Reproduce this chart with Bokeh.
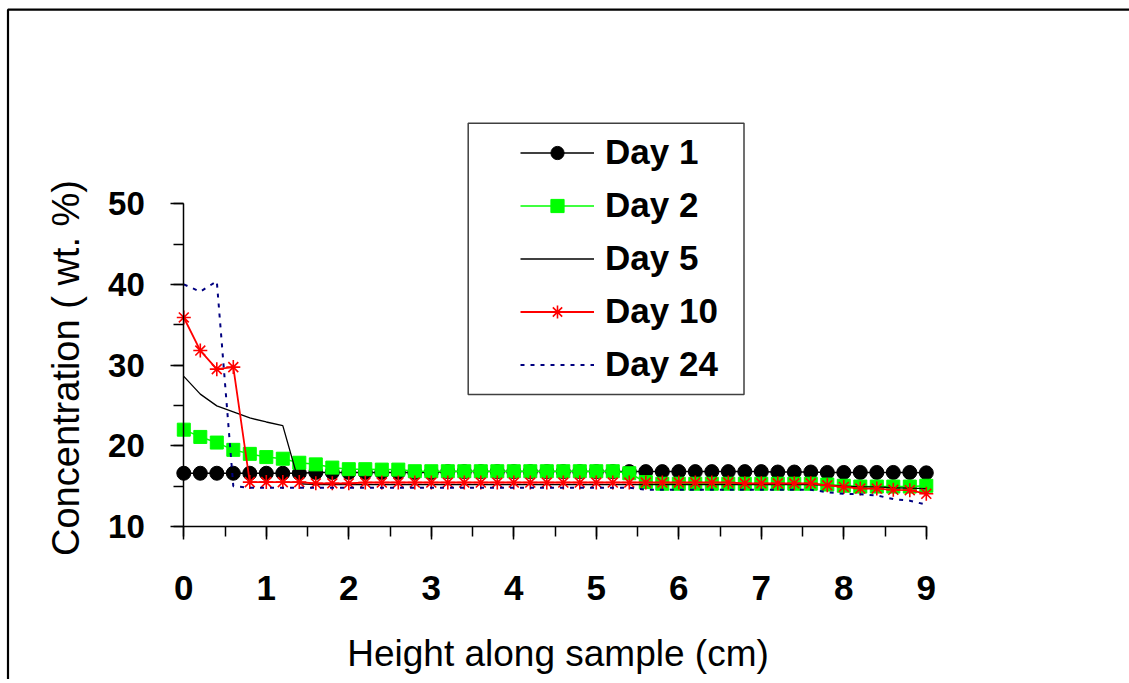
from math import pi
from bokeh.plotting import figure
from bokeh.models import (Range1d, SingleIntervalTicker, Legend, LegendItem, Label,
                          BoxAnnotation, ColumnDataSource)
from bokeh.embed import file_html
from bokeh.resources import INLINE

# ---------------- data ----------------
height_cm = [0.0, 0.2, 0.4, 0.6, 0.8, 1.0, 1.2, 1.4, 1.6, 1.8,
             2.0, 2.2, 2.4, 2.6, 2.8, 3.0, 3.2, 3.4, 3.6, 3.8,
             4.0, 4.2, 4.4, 4.6, 4.8, 5.0, 5.2, 5.4, 5.6, 5.8,
             6.0, 6.2, 6.4, 6.6, 6.8, 7.0, 7.2, 7.4, 7.6, 7.8,
             8.0, 8.2, 8.4, 8.6, 8.8, 9.0]

day1 = [16.6, 16.6, 16.6, 16.6, 16.6, 16.6, 16.6, 16.6, 16.7, 16.7,
        16.7, 16.7, 16.7, 16.7, 16.7, 16.7, 16.8, 16.8, 16.8, 16.8,
        16.8, 16.8, 16.8, 16.8, 16.8, 16.8, 16.8, 16.8, 16.8, 16.8,
        16.8, 16.8, 16.8, 16.8, 16.8, 16.8, 16.75, 16.75, 16.75, 16.7,
        16.7, 16.7, 16.7, 16.7, 16.7, 16.65]

day2 = [22.0, 21.1, 20.4, 19.5, 19.0, 18.6, 18.4, 17.9, 17.7, 17.3,
        17.1, 17.1, 17.05, 17.05, 16.85, 16.85, 16.85, 16.85, 16.85, 16.85,
        16.85, 16.85, 16.85, 16.85, 16.85, 16.85, 16.85, 16.6, 15.5, 15.3,
        15.3, 15.3, 15.3, 15.3, 15.3, 15.3, 15.3, 15.3, 15.3, 15.2,
        15.05, 14.95, 14.95, 14.95, 14.95, 15.05]

day5 = [28.6, 26.4, 24.95, 24.2, 23.45, 22.95, 22.5, 15.3, 15.2, 15.2,
        15.2, 15.2, 15.2, 15.2, 15.2, 15.2, 15.2, 15.2, 15.2, 15.2,
        15.2, 15.2, 15.2, 15.2, 15.2, 15.2, 15.2, 15.2, 15.2, 15.2,
        15.2, 15.2, 15.2, 15.2, 15.2, 15.2, 15.2, 15.2, 15.2, 15.1,
        15.0, 14.9, 14.9, 14.8, 14.75, 14.7]

day10 = [35.9, 31.8, 29.5, 29.75, 15.5, 15.5, 15.5, 15.5, 15.35, 15.35,
         15.35, 15.45, 15.45, 15.45, 15.45, 15.45, 15.45, 15.45, 15.45, 15.45,
         15.45, 15.45, 15.45, 15.45, 15.45, 15.45, 15.45, 15.45, 15.45, 15.45,
         15.45, 15.45, 15.45, 15.45, 15.35, 15.35, 15.35, 15.35, 15.35, 15.1,
         14.9, 14.7, 14.7, 14.55, 14.5, 14.05]

day24 = [40.0, 39.1, 40.4, 15.0, 14.8, 14.8, 14.8, 14.8, 14.8, 14.8,
         14.8, 14.8, 14.8, 14.8, 14.8, 14.8, 14.8, 14.8, 14.8, 14.8,
         14.8, 14.8, 14.8, 14.8, 14.8, 14.8, 14.8, 14.8, 14.55, 14.55,
         14.55, 14.55, 14.55, 14.55, 14.55, 14.55, 14.55, 14.55, 14.55, 14.25,
         14.05, 14.0, 13.85, 13.4, 13.2, 12.7]

series_labels = ["Day 1", "Day 2", "Day 5", "Day 10", "Day 24"]
x_title = "Height along sample (cm)"
y_title = "Concentration ( wt. %)"

# ---------------- layout (page pixels; canvas at page origin) ----------------
W, H = 1129, 679
X0_PX, XPX = 183.3, 82.5    # page x of height 0, pixels per cm
Y10_PX, YPX = 526.0, 8.07   # page y of concentration 10, pixels per wt.%


def xd(px):
    return (px - X0_PX) / XPX


def yd(py):
    return 10 + (Y10_PX - py) / YPX


p = figure(width=W, height=H, output_backend="svg", toolbar_location=None,
           x_range=Range1d(xd(0), xd(W)), y_range=Range1d(yd(H), yd(0)),
           min_border_left=0, min_border_right=0, min_border_top=0, min_border_bottom=0)
p.outline_line_color = None
p.grid.visible = False
p.background_fill_color = "white"
p.border_fill_color = "white"

# axes crossing at (0, 10)
p.xaxis.fixed_location = 10
p.xaxis.bounds = (0, 9)
p.xaxis.ticker = SingleIntervalTicker(interval=1, num_minor_ticks=2)
p.yaxis.fixed_location = 0
p.yaxis.bounds = (10, 50)
p.yaxis.ticker = SingleIntervalTicker(interval=10, num_minor_ticks=2)
for ax in (p.xaxis, p.yaxis):
    ax.axis_line_color = "black"
    ax.axis_line_width = 1.5
    ax.major_tick_line_color = "black"
    ax.major_tick_line_width = 1.5
    ax.minor_tick_line_color = "black"
    ax.minor_tick_line_width = 1.5
    ax.major_tick_in = 0
    ax.major_tick_out = 13
    ax.minor_tick_in = 0
    ax.minor_tick_out = 10
    ax.major_label_text_font = "Liberation Sans"
    ax.major_label_text_font_style = "bold"
    ax.major_label_text_color = "black"
p.xaxis.major_label_text_font_size = "35px"
p.xaxis.major_label_standoff = 36
p.yaxis.major_label_text_font_size = "33px"
p.yaxis.major_label_standoff = 26

# chart border (top and left edges of the picture frame)
p.line([xd(7.5), xd(7.5), xd(W + 10)], [yd(H + 10), yd(9.2), yd(9.2)],
       line_color="black", line_width=2.2)

src = ColumnDataSource(dict(x=height_cm, d1=day1, d2=day2, d5=day5, d10=day10, d24=day24))

l1 = p.line("x", "d1", source=src, line_color="black", line_width=1.5)
m1 = p.scatter("x", "d1", source=src, marker="circle", size=14,
               fill_color="black", line_color="black")
l2 = p.line("x", "d2", source=src, line_color="#00FF00", line_width=1.5)
m2 = p.scatter("x", "d2", source=src, marker="square", size=13,
               fill_color="#00FF00", line_color="#00FF00")
l5 = p.line("x", "d5", source=src, line_color="black", line_width=1.3)
l10 = p.line("x", "d10", source=src, line_color="#FF0000", line_width=1.8)
m10 = p.scatter("x", "d10", source=src, marker="asterisk", size=14,
                line_color="#FF0000", line_width=1.6)
l24 = p.line("x", "d24", source=src, line_color="#000080", line_width=2,
             line_dash="4 6")

# legend
p.add_layout(BoxAnnotation(left=xd(467.7), right=xd(743.5), top=yd(122.7), bottom=yd(394),
                           fill_alpha=0, line_color="#404040", line_alpha=1.0, line_width=1.5))
legend = Legend(items=[LegendItem(label=series_labels[0], renderers=[l1, m1]),
                       LegendItem(label=series_labels[1], renderers=[l2, m2]),
                       LegendItem(label=series_labels[2], renderers=[l5]),
                       LegendItem(label=series_labels[3], renderers=[l10, m10]),
                       LegendItem(label=series_labels[4], renderers=[l24])],
                location=(520, H - 384.3), orientation="vertical",
                glyph_width=74, glyph_height=33, label_standoff=11, spacing=13,
                padding=0, margin=0,
                label_text_font="Liberation Sans", label_text_font_style="bold",
                label_text_font_size="35px", label_text_color="black",
                border_line_alpha=0, background_fill_alpha=0)
p.add_layout(legend)

# axis titles
p.add_layout(Label(x=xd(557.5), y=yd(653), text=x_title,
                   text_align="center", text_baseline="alphabetic",
                   text_font="Liberation Sans", text_font_size="37px", text_color="black"))
p.add_layout(Label(x=xd(65), y=yd(367.5), text=y_title, angle=pi / 2,
                   text_align="center", text_baseline="alphabetic",
                   text_font="Liberation Sans", text_font_size="38px", text_color="black"))

open("out.html", "w").write(file_html(p, INLINE))
